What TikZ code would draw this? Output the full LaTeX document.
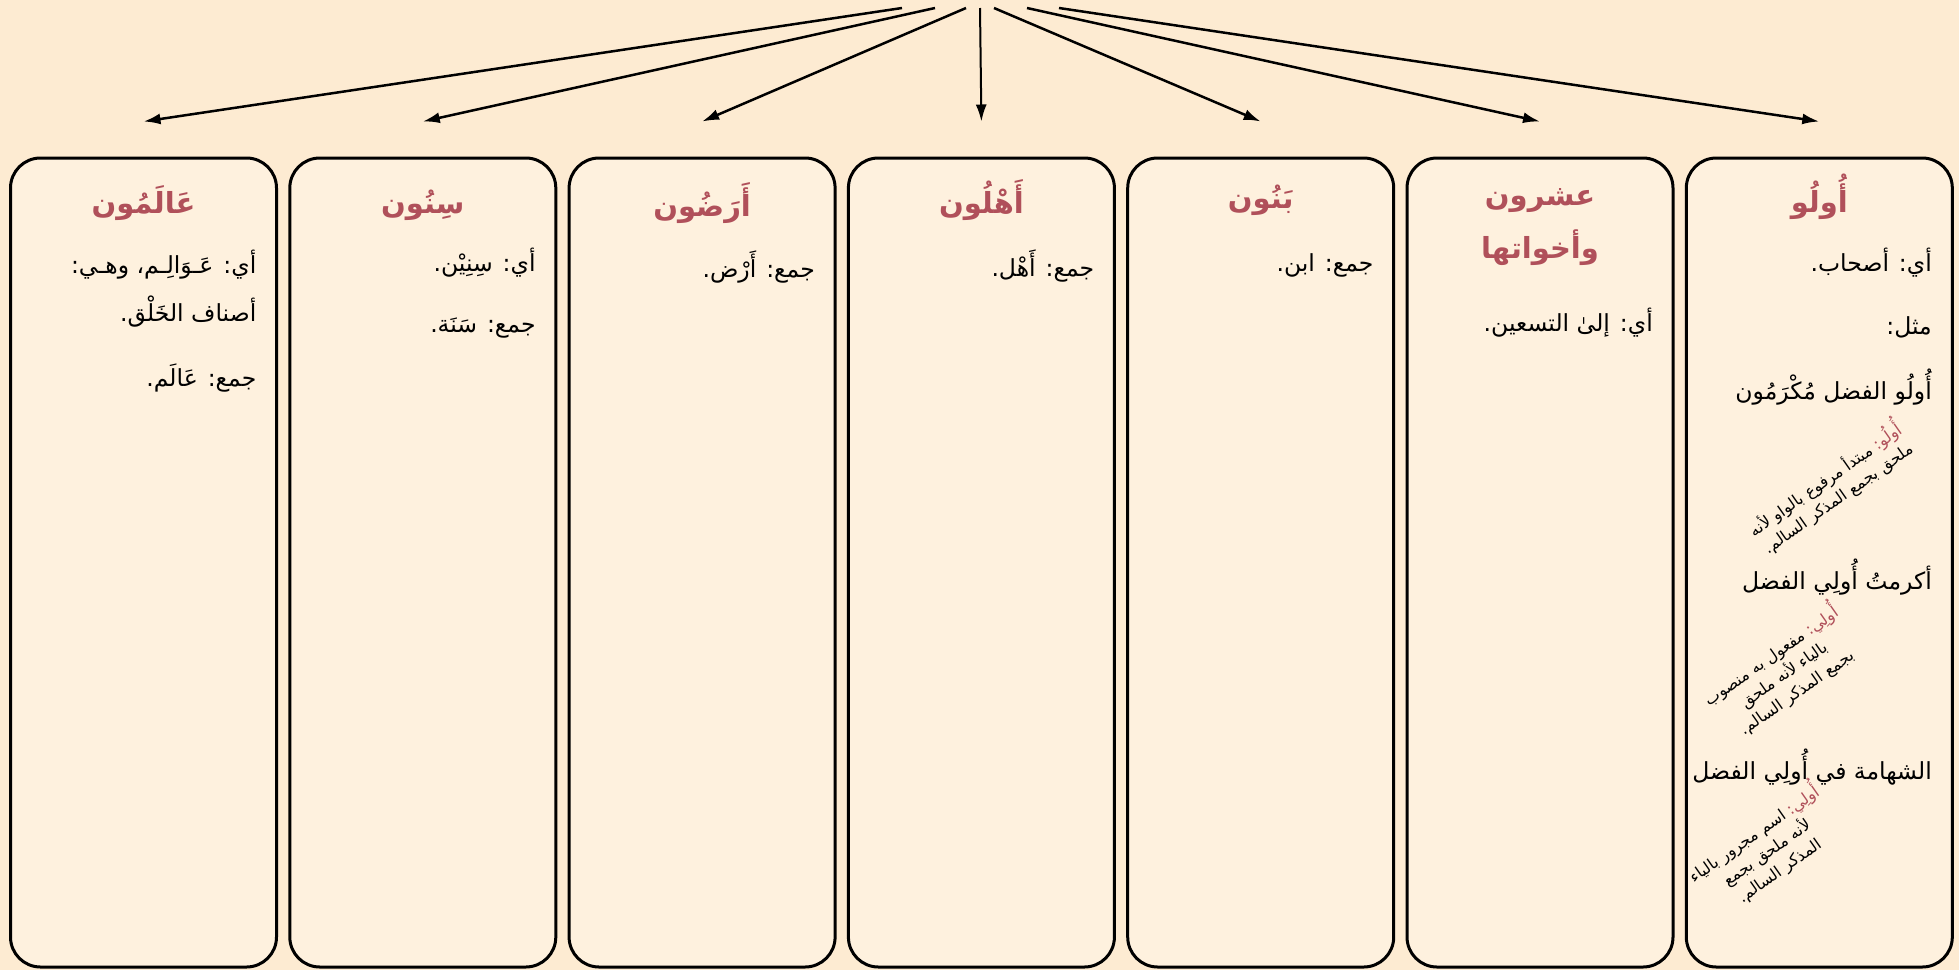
\documentclass[tikz,border=0pt]{standalone}
\usepackage{fontspec}
\usetikzlibrary{arrows.meta}
\TeXXeTstate=1
\newfontfamily\arabicfont[Script=Arabic]{DejaVu Sans}
\definecolor{khalfiya}{HTML}{FDEBD2}
\definecolor{bitaqa}{HTML}{FEF1DE}
\definecolor{ahmar}{HTML}{B0505A}
\newcommand{\ar}[1]{\beginR #1\endR}
\begin{document}
\begin{tikzpicture}[x=1pt, y=-1pt,
	every node/.style={font=\arabicfont\fontsize{23.5}{48}\selectfont, inner sep=0pt},
	kutla/.style={draw, line width=3pt, fill=bitaqa, rounded corners=30pt, minimum width=266pt, minimum height=809pt},
	unwan/.style={text=ahmar, font=\arabicfont\bfseries\fontsize{29}{53}\selectfont, align=center},
	sharh/.style={anchor=east, align=right},
	hashiya/.style={rotate=35, align=center, font=\arabicfont\fontsize{16}{22}\selectfont},
	sahm/.style={line width=2.5pt, -{Latex[length=17pt, width=11pt]}}]
	\fill[khalfiya] (0,0) rectangle (1959,970);
	\useasboundingbox (0,0) rectangle (1959,970);
	% the seven boxes
	\node[kutla] (alamun) at (143.5,562.5) {};
	\node[kutla] (sinun) at (422.8,562.5) {};
	\node[kutla] (aradun) at (702.1,562.5) {};
	\node[kutla] (ahlun) at (981.4,562.5) {};
	\node[kutla] (banun) at (1260.7,562.5) {};
	\node[kutla] (ishrun) at (1540,562.5) {};
	\node[kutla] (ulu) at (1819.3,562.5) {};
	% titles
	\node[unwan] (t-alamun) at (143.5,203) {\ar{عَالَمُون}};
	\node[unwan] (t-sinun) at (422.8,205) {\ar{سِنُون}};
	\node[unwan] (t-aradun) at (702.1,203) {\ar{أَرَضُون}};
	\node[unwan] (t-ahlun) at (981.4,200) {\ar{أَهْلُون}};
	\node[unwan] (t-banun) at (1260.7,200) {\ar{بَنُون}};
	\node[unwan] (t-ishrun) at (1540,227) {\ar{عشرون}\\\ar{وأخواتها}};
	\node[unwan] (t-ulu) at (1819.3,197) {\ar{أُولُو}};
	% texts
	\node[sharh] (alamun-1) at (256.5,289) {\ar{أي: عَـوَالِـم، وهـي:}\\\ar{أصناف الخَلْق.}};
	\node[sharh] (alamun-2) at (256.5,378) {\ar{جمع: عَالَم.}};
	\node[sharh] (sinun-1) at (535.8,263) {\ar{أي: سِنِيْن.}};
	\node[sharh] (sinun-2) at (535.8,328) {\ar{جمع: سَنَة.}};
	\node[sharh] (aradun-1) at (815,267) {\ar{جمع: أَرْض.}};
	\node[sharh] (ahlun-1) at (1094.4,266) {\ar{جمع: أَهْل.}};
	\node[sharh] (banun-1) at (1373.7,265) {\ar{جمع: ابن.}};
	\node[sharh] (ishrun-1) at (1653,323) {\ar{أي: إلىٰ التسعين.}};
	\node[sharh] (ulu-1) at (1932,263) {\ar{أي: أصحاب.}};
	\node[sharh] (ulu-2) at (1932,327) {\ar{مثل:}};
	\node[sharh] (ulu-3) at (1932,387) {\ar{أُولُو الفضل مُكْرَمُون}};
	\node[sharh] (ulu-4) at (1932,577) {\ar{أكرمتُ أُولِي الفضل}};
	\node[sharh] (ulu-5) at (1932,767) {\ar{الشهامة في أُولِي الفضل}};
	% rotated notes, red head word kept outside the reversed run
	\node[hashiya] (ulu-h1) at (1830,487) {\beginR مبتدأ مرفوع بالواو لأنه\endR{} \textcolor{ahmar}{\beginR أُولُو:\endR}\\\beginR ملحق بجمع المذكر السالم.\endR};
	\node[hashiya] (ulu-h2) at (1782,672) {\beginR مفعول به منصوب\endR{} \textcolor{ahmar}{\beginR أُولِي:\endR}\\\beginR بالياء لأنه ملحق\endR\\\beginR بجمع المذكر السالم.\endR};
	\node[hashiya] (ulu-h3) at (1765,850) {\beginR اسم مجرور بالياء\endR{} \textcolor{ahmar}{\beginR أُولِي:\endR}\\\beginR لأنه ملحق بجمع\endR\\\beginR المذكر السالم.\endR};
	% arrows
	\coordinate (s1) at (902,8);
	\coordinate (s2) at (935,8);
	\coordinate (s3) at (966,8);
	\coordinate (s4) at (980,8);
	\coordinate (s5) at (994,8);
	\coordinate (s6) at (1027,8);
	\coordinate (s7) at (1059,8);
	\draw[sahm] (s1) -- ([yshift=35pt]alamun.north);
	\draw[sahm] (s2) -- ([yshift=35pt]sinun.north);
	\draw[sahm] (s3) -- ([yshift=35pt]aradun.north);
	\draw[sahm, line width=2pt] (s4) -- ([yshift=35pt]ahlun.north);
	\draw[sahm] (s5) -- ([yshift=35pt]banun.north);
	\draw[sahm] (s6) -- ([yshift=35pt]ishrun.north);
	\draw[sahm] (s7) -- ([yshift=35pt]ulu.north);
\end{tikzpicture}
\end{document}
